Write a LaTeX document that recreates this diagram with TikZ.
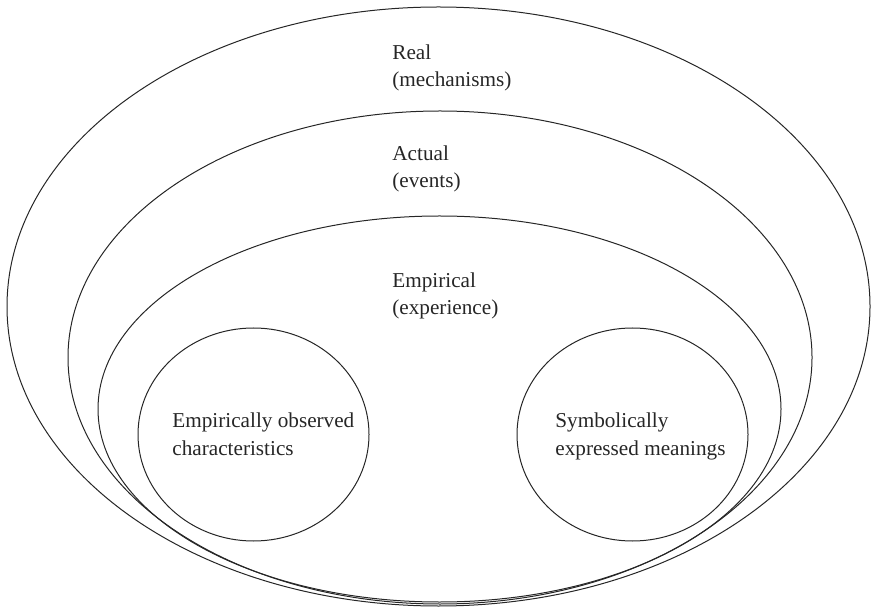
\documentclass[tikz,border=0pt]{standalone}
\usepackage{fontspec}
\setmainfont{Liberation Serif}
\usepackage{tikz}

\tikzset{
	ring/.style={draw=black!85, line width=0.5pt},
	lvltext/.style={anchor=base west, align=left, inner sep=0pt,
		font=\fontsize{10.6}{13.5}\selectfont, text=black!85}
}

\begin{document}
\begin{tikzpicture}[x=0.5pt, y=-0.5pt]
	\useasboundingbox (0,0) rectangle (871,608);
	\draw [ring] (438.5,306.5) ellipse (431.5 and 299.5);
	\draw [ring] (440,357.5) ellipse (372 and 246.5);
	\draw [ring] (439.5,409) ellipse (341.5 and 193);
	\draw [ring] (253.5,434.5) ellipse (115.5 and 106.5);
	\draw [ring] (632.5,434.5) ellipse (115.5 and 106.5);
	
	% base anchor sits on the last line
	\node [lvltext] (real) at (392,87) {Real\\(mechanisms)};
	\node [lvltext] (actual) at (392,188) {Actual\\(events)};
	\node [lvltext] (empirical) at (392,315) {Empirical\\(experience)};
	\node [lvltext] (observed) at (172,455) {Empirically observed\\characteristics};
	\node [lvltext] (symbolic) at (555,455) {Symbolically\\expressed meanings};
\end{tikzpicture}
\end{document}
